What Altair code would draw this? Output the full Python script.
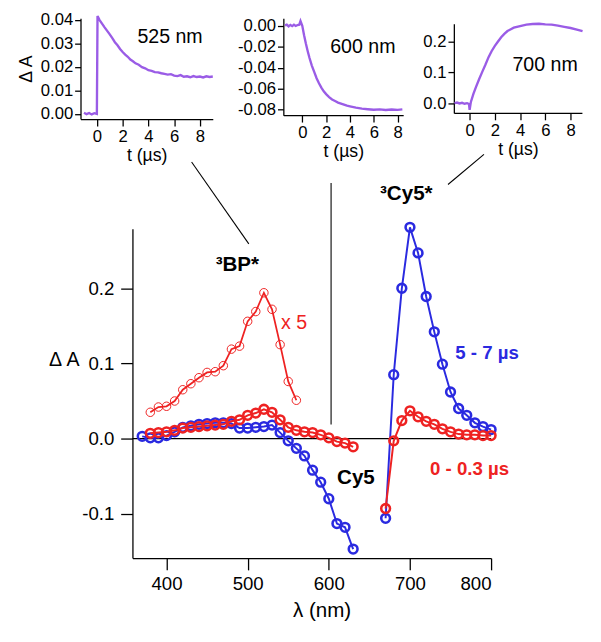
import altair as alt
import pandas as pd

# ---------------- main spectra ----------------
wl_vis_blue = [370, 380, 390, 400, 410, 420, 430, 440, 450, 460, 470, 480, 490, 500,
               510, 520, 530, 540, 550, 560, 570, 580, 590, 600, 610, 620, 630]
dA_vis_blue = [0.003, 0.001, 0.001, 0.004, 0.009, 0.015, 0.017, 0.019, 0.020, 0.021, 0.021,
               0.020, 0.014, 0.014, 0.015, 0.016, 0.018, 0.008, -0.003, -0.013, -0.023,
               -0.042, -0.058, -0.080, -0.113, -0.118, -0.147]
wl_nir = [670, 680, 690, 700, 710, 720, 730, 740, 750, 760, 770, 780, 790, 800]
dA_nir_blue = [-0.106, 0.085, 0.200, 0.281, 0.247, 0.189, 0.142, 0.099, 0.062, 0.040,
               0.031, 0.021, 0.016, 0.012]

wl_vis_red = [380, 390, 400, 410, 420, 430, 440, 450, 460, 470, 480, 490, 500, 510,
              520, 530, 540, 550, 560, 570, 580, 590, 600, 610, 620, 630]
dA_vis_red = [0.007, 0.008, 0.009, 0.011, 0.014, 0.015, 0.016, 0.017, 0.018, 0.019, 0.023,
              0.025, 0.031, 0.034, 0.039, 0.035, 0.025, 0.015, 0.011, 0.009, 0.008, 0.005,
              0.001, -0.004, -0.006, -0.011]
dA_nir_red = [-0.093, -0.003, 0.024, 0.037, 0.029, 0.023, 0.019, 0.013, 0.009, 0.006,
              0.005, 0.005, 0.004, 0.004]

wl_x5 = [380, 390, 400, 410, 420, 430, 440, 450, 460, 470, 480, 490, 500, 510, 520,
         530, 540, 550, 560]
dA_x5 = [0.035, 0.042, 0.043, 0.050, 0.065, 0.073, 0.081, 0.088, 0.089, 0.097, 0.119,
         0.123, 0.156, 0.169, 0.194, 0.172, 0.125, 0.076, 0.051]

# connector lines (main-plot data coordinates)
conn_wl = [430.9, 602.8, 791.2]
conn_dA = [0.368, 0.340, 0.378]
conn_wl2 = [501.4, 602.8, 746.9]
conn_dA2 = [0.259, 0.0186, 0.338]

# annotations
bold_text = ["³BP*", "³Cy5*", "Cy5", "5 - 7 µs", "0 - 0.3 µs"]
bold_wl = [487.3, 695.5, 633.4, 795.0, 773.4]
bold_dA = [0.231, 0.325, -0.053, 0.114, -0.041]
bold_col = ["#000000", "#000000", "#000000", "#2a2ae0", "#ee2222"]
bold_size = [21, 21, 21, 19, 19]

# ---------------- inset kinetics ----------------
t1 = [-1.0, -0.8, -0.6, -0.4, -0.2, 0.0, 0.05, 0.2, 0.4, 0.6, 0.8, 1.0, 1.2, 1.4, 1.6,
      1.8, 2.0, 2.2, 2.4, 2.6, 2.8, 3.0, 3.25, 3.5, 3.75, 4.0, 4.25, 4.5, 4.75, 5.0,
      5.25, 5.5, 5.75, 6.0, 6.25, 6.5, 6.75, 7.0, 7.25, 7.5, 7.75, 8.0, 8.25, 8.5, 8.75, 9.0]
a1 = [0.0005, -0.0001, 0.0004, -0.0002, 0.0003, 0.0000, 0.0416, 0.0400, 0.0384, 0.0368,
      0.0353, 0.0338, 0.0322, 0.0305, 0.0292, 0.0276, 0.0263, 0.0252, 0.0243, 0.0231,
      0.0224, 0.0215, 0.0209, 0.0199, 0.0194, 0.0186, 0.0183, 0.0178, 0.0177, 0.0173,
      0.0170, 0.0167, 0.0169, 0.0163, 0.0161, 0.0165, 0.0158, 0.0160, 0.0156, 0.0161,
      0.0157, 0.0159, 0.0155, 0.0160, 0.0157, 0.0159]

t2 = [-1.45, -1.3, -1.15, -1.0, -0.85, -0.7, -0.55, -0.4, -0.25, -0.15, 0.0, 0.15, 0.3,
      0.45, 0.6, 0.8, 1.0, 1.2, 1.4, 1.6, 1.8, 2.0, 2.25, 2.5, 2.75, 3.0, 3.25, 3.5,
      3.75, 4.0, 4.5, 5.0, 5.5, 6.0, 6.5, 7.0, 7.5, 8.0, 8.4]
a2 = [0.0003, 0.0010, -0.0006, 0.0008, -0.0004, 0.0009, -0.0002, 0.0007, 0.0010, 0.0045,
      0.0000, -0.0090, -0.0170, -0.0240, -0.0305, -0.0380, -0.0440, -0.0500, -0.0548,
      -0.0590, -0.0625, -0.0652, -0.0680, -0.0703, -0.0718, -0.0733, -0.0742, -0.0752,
      -0.0762, -0.0768, -0.0780, -0.0790, -0.0796, -0.0801, -0.0798, -0.0803, -0.0799,
      -0.0802, -0.0797]

t3 = [-1.2, -1.0, -0.8, -0.6, -0.4, -0.2, -0.05, 0.0, 0.1, 0.3, 0.5, 0.75, 1.0, 1.25,
      1.5, 1.75, 2.0, 2.25, 2.5, 2.75, 3.0, 3.5, 4.0, 4.5, 5.0, 5.5, 6.0, 6.5, 7.0,
      7.5, 8.0, 8.5, 8.95]
a3 = [0.000, 0.002, -0.001, 0.001, -0.002, 0.000, -0.003, -0.022, 0.004, 0.030, 0.052,
      0.078, 0.102, 0.125, 0.150, 0.170, 0.187, 0.201, 0.215, 0.226, 0.235, 0.246,
      0.251, 0.256, 0.258, 0.259, 0.257, 0.256, 0.253, 0.249, 0.245, 0.240, 0.235]

BLUE = "#2a2ae0"
RED = "#ee2222"
PURPLE = "#9a5ce6"
FONT = "Liberation Sans"

# ---------------- insets ----------------
def inset(t, a, xdom, ydom, w, h, yvals, yfmt, label, lx, ly, ytitle=None, yrange=None):
    df = pd.DataFrame({"t": t, "a": a})
    sc_y = alt.Scale(domain=ydom, nice=False, zero=False)
    if yrange is not None:
        sc_y = alt.Scale(domain=ydom, nice=False, zero=False, range=yrange)
    ax_x = alt.Axis(values=[0, 2, 4, 6, 8], title="t (µs)", grid=False, tickSize=7,
                    labelPadding=3, labelFontSize=17, titleFontSize=18,
                    titleFontWeight="normal", titlePadding=2, labelFont=FONT,
                    titleFont=FONT, domainColor="black", tickColor="black",
                    labelColor="black", titleColor="black", domainWidth=1.3, tickWidth=1.3)
    ykw = dict(values=yvals, grid=False, tickSize=6, labelPadding=2, labelFontSize=17,
               labelFont=FONT, domainColor="black", tickColor="black",
               labelColor="black", domainWidth=1.3, tickWidth=1.3,
               labelExpr=f"datum.value < 0 ? '-' + format(-datum.value, '{yfmt}') : format(datum.value, '{yfmt}')")
    if ytitle:
        ykw.update(title=ytitle, titleFontSize=18, titleFont=FONT, titleFontWeight="normal",
                   titleColor="black", titlePadding=5)
    else:
        ykw.update(title=None)
    ax_y = alt.Axis(**ykw)
    X = alt.X("t:Q", scale=alt.Scale(domain=xdom, nice=False, zero=False), axis=ax_x)
    Y = alt.Y("a:Q", scale=sc_y, axis=ax_y)
    line = alt.Chart(df).mark_line(color=PURPLE, strokeWidth=2.4, clip=False).encode(x=X, y=Y)
    lab = alt.Chart(pd.DataFrame({"t": [lx], "a": [ly], "s": [label]})).mark_text(
        fontSize=20, font=FONT, color="black", align="center", baseline="middle"
    ).encode(x=X, y=Y, text="s:N")
    return alt.layer(line, lab).properties(width=w, height=h)

in1 = inset(t1, a1, [-1.27, 9.0], [-0.0022, 0.0407], 135, 103,
            [0, 0.01, 0.02, 0.03, 0.04], ".2f", "525 nm", 5.68, 0.0327, ytitle="Δ A")
in2 = inset(t2, a2, [-1.59, 8.47], [-0.0853, 0.0072], 122.3, 99,
            [0, -0.02, -0.04, -0.06, -0.08], ".2f", "600 nm", 5.08, -0.0208)
in3 = inset(t3, a3, [-1.25, 8.9], [-0.032, 0.2588], 130.7, 96.7,
            [0, 0.1, 0.2], ".1f", "700 nm", 5.98, 0.1246, yrange=[96.7, 5.7])

# with flush bounds a nested concat counts as zero size, so offsets are absolute
top = alt.hconcat(alt.hconcat(in1, in2, spacing=72, bounds="flush"), in3,
                  spacing=381, bounds="flush")

# ---------------- main chart ----------------
rows = []
for w, v in zip(wl_vis_blue, dA_vis_blue):
    rows.append(dict(wl=w, dA=v, ser="blue", seg="b1"))
for w, v in zip(wl_nir, dA_nir_blue):
    rows.append(dict(wl=w, dA=v, ser="blue", seg="b2"))
for w, v in zip(wl_vis_red, dA_vis_red):
    rows.append(dict(wl=w, dA=v, ser="red", seg="r1"))
for w, v in zip(wl_nir, dA_nir_red):
    rows.append(dict(wl=w, dA=v, ser="red", seg="r2"))
spec = pd.DataFrame(rows)
x5 = pd.DataFrame({"wl": wl_x5, "dA": dA_x5})

ax_mx = alt.Axis(values=[400, 500, 600, 700, 800], title="λ (nm)", grid=False, tickSize=12,
                 labelPadding=5, labelFontSize=19, titleFontSize=21, titlePadding=7,
                 titleX=193, labelFont=FONT, titleFont=FONT, titleFontWeight="normal",
                 domainColor="black", tickColor="black", labelColor="black",
                 titleColor="black", domainWidth=1.3, tickWidth=1.3)
ax_my = alt.Axis(values=[-0.1, 0, 0.1, 0.2], title="Δ A", grid=False, tickSize=12,
                 labelPadding=7, labelFontSize=19, titleFontSize=20, labelFont=FONT,
                 titleFont=FONT, titleFontWeight="normal", titleAngle=0, titleX=-70,
                 titleY=133, titleAlign="center", titleBaseline="middle",
                 domainColor="black", tickColor="black", labelColor="black",
                 titleColor="black", domainWidth=1.3, tickWidth=1.3,
                 labelExpr="datum.value < 0 ? '-' + format(-datum.value, '.1f') : format(datum.value, '.1f')")
SX = alt.Scale(domain=[358, 800], nice=False, zero=False)
SY = alt.Scale(domain=[-0.159, 0.279], nice=False, zero=False)
MX = alt.X("wl:Q", scale=SX, axis=ax_mx)
MY = alt.Y("dA:Q", scale=SY, axis=ax_my)

conn = pd.DataFrame({"wl": conn_wl, "dA": conn_dA, "wl2": conn_wl2, "dA2": conn_dA2})
conn_l = alt.Chart(conn).mark_rule(color="black", strokeWidth=1.1, clip=False).encode(
    x=MX, y=MY, x2="wl2:Q", y2="dA2:Q")
zero_l = alt.Chart(pd.DataFrame({"z": [0]})).mark_rule(color="black", strokeWidth=1.2).encode(
    y=alt.Y("z:Q", scale=SY, axis=ax_my))

blue_df = spec[spec.ser == "blue"]
red_df = spec[spec.ser == "red"]
blue_line = alt.Chart(blue_df).mark_line(color=BLUE, strokeWidth=2).encode(x=MX, y=MY, detail="seg:N")
blue_pts = alt.Chart(blue_df).mark_point(shape="circle", filled=False, color=BLUE, size=80,
                                         strokeWidth=2.6, opacity=1).encode(x=MX, y=MY)
x5_line = alt.Chart(x5).mark_line(color=RED, strokeWidth=1.8).encode(x=MX, y=MY)
x5_pts = alt.Chart(x5).mark_point(shape="circle", filled=False, color=RED, size=75,
                                  strokeWidth=1, opacity=1).encode(x=MX, y=MY)
red_line = alt.Chart(red_df).mark_line(color=RED, strokeWidth=2).encode(x=MX, y=MY, detail="seg:N")
red_pts = alt.Chart(red_df).mark_point(shape="circle", filled=False, color=RED, size=80,
                                       strokeWidth=2.6, opacity=1).encode(x=MX, y=MY)

bt = pd.DataFrame({"wl": bold_wl, "dA": bold_dA, "s": bold_text, "c": bold_col, "fs": bold_size})
bold_l = alt.Chart(bt).mark_text(font=FONT, fontWeight="bold", align="center",
                                 baseline="middle", clip=False).encode(
    x=MX, y=MY, text="s:N", color=alt.Color("c:N", scale=None),
    size=alt.Size("fs:Q", scale=None))
x5_t = alt.Chart(pd.DataFrame({"wl": [557.3], "dA": [0.153], "s": ["x 5"]})).mark_text(
    font=FONT, fontSize=20, color=RED, align="center", baseline="middle").encode(
    x=MX, y=MY, text="s:N")

main = alt.layer(conn_l, zero_l, blue_line, blue_pts, x5_line, x5_pts, red_line, red_pts,
                 bold_l, x5_t).properties(width=366, height=336)

spacer = alt.Chart(pd.DataFrame({"v": [0]})).mark_text(text="").encode(
    x=alt.value(0), y=alt.value(0)).properties(width=1, height=1)

bottom = alt.hconcat(spacer, main, spacing=52, bounds="flush")

chart = alt.vconcat(top, bottom, spacing=215, bounds="flush").configure_view(
    strokeWidth=0
).properties(padding={"left": 9, "top": -4, "right": 5, "bottom": 5}, background="white")

chart.save("out.html", embed_options={"renderer": "svg", "actions": False})
